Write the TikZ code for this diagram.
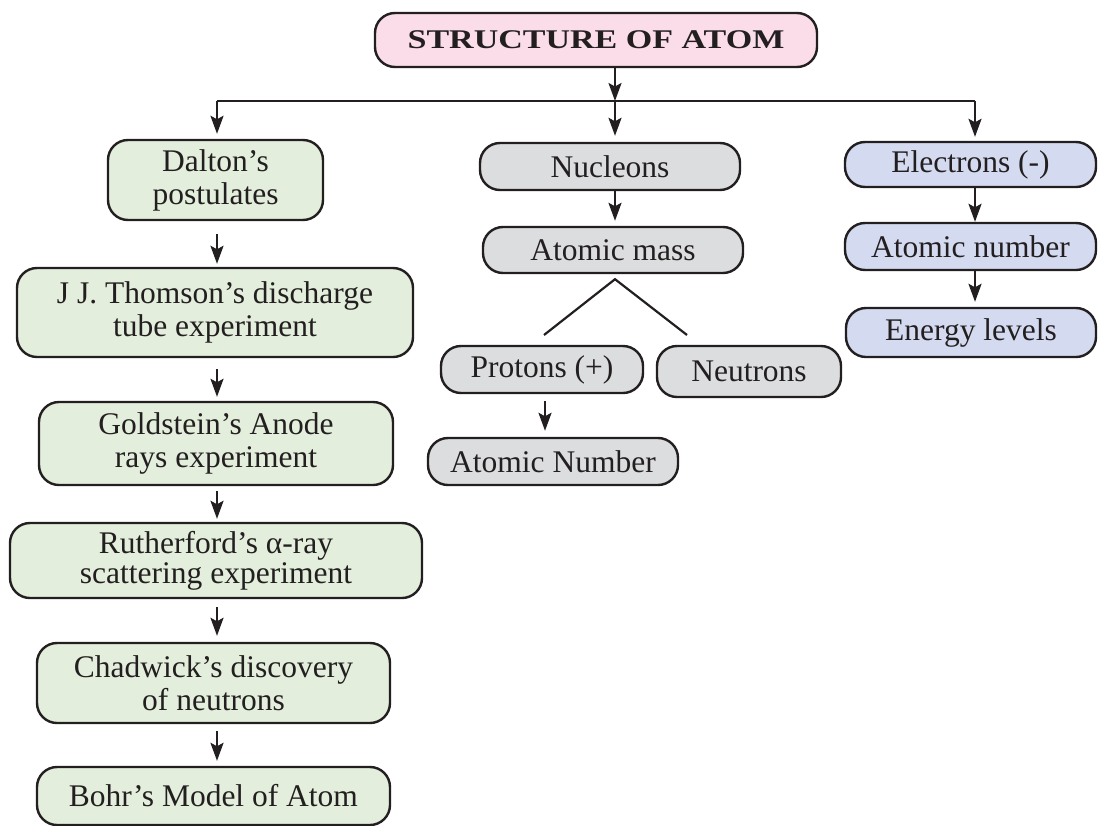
\documentclass[tikz,border=0pt]{standalone}
\usepackage{fontspec}
\setmainfont{Liberation Serif}
\usetikzlibrary{arrows.meta,calc}
\definecolor{ink}{HTML}{231F20}
\definecolor{pinkf}{HTML}{FBDDEA}
\definecolor{greenf}{HTML}{E3EFDC}
\definecolor{grayf}{HTML}{DCDDDF}
\definecolor{bluef}{HTML}{D4DAF0}
\tikzset{
  box/.style={draw=ink, line width=2.4pt, rounded corners=20pt, inner sep=0pt,
    align=center, text=ink, font=\fontsize{31.5}{33}\selectfont},
  gbox/.style={box, fill=greenf},
  nbox/.style={box, fill=grayf},
  bbox/.style={box, fill=bluef},
  conn/.style={draw=ink, line width=2.2pt},
  arr/.style={conn, -{Stealth[length=18pt,width=13pt,inset=3.5pt]}},
}
\begin{document}
\begin{tikzpicture}[x=1pt,y=-1pt]
\useasboundingbox (0,0) rectangle (1099,825);
\begin{scope}
\clip (0,0) rectangle (1099,825);
% title
\node[box, fill=pinkf, minimum width=442pt, minimum height=54pt, font=\fontsize{27}{28}\selectfont\bfseries] (title) at (596,40)
  {\scalebox{1.26}[1]{STRUCTURE OF ATOM}};
% left column
\node[gbox, minimum width=215pt, minimum height=80pt] (dal) at (215.5,180) {Dalton’s\\postulates};
\node[gbox, minimum width=396pt, minimum height=89pt] (tho) at (215,312.5) {J J. Thomson’s discharge\\tube experiment};
\node[gbox, minimum width=354pt, minimum height=83pt] (gol) at (216,443.5) {Goldstein’s Anode\\rays experiment};
\node[gbox, minimum width=412pt, minimum height=75pt, font=\fontsize{31.5}{30}\selectfont] (rut) at (216,560.5) {Rutherford’s α-ray\\scattering experiment};
\node[gbox, minimum width=353pt, minimum height=80pt] (cha) at (213.5,683) {Chadwick’s discovery\\of neutrons};
\node[gbox, minimum width=353pt, minimum height=58pt] (boh) at (213.5,796) {Bohr’s Model of Atom};
% middle column
\node[nbox, minimum width=260pt, minimum height=47pt] (nuc) at (610,166.5) {Nucleons};
\node[nbox, minimum width=260pt, minimum height=46pt] (mas) at (613,250) {Atomic mass};
\node[nbox, minimum width=202pt, minimum height=47pt] (pro) at (542,369.5) {Protons (+)};
\node[nbox, minimum width=184pt, minimum height=51pt] (neu) at (749,371.5) {Neutrons};
\node[nbox, minimum width=250pt, minimum height=47pt] (anu) at (553,461.5) {Atomic Number};
% right column
\node[bbox, minimum width=251pt, minimum height=45pt] (ele) at (970.5,164.5) {Electrons (-)};
\node[bbox, minimum width=251pt, minimum height=47pt] (anr) at (970.5,246.5) {Atomic number};
\node[bbox, minimum width=250pt, minimum height=49pt] (ene) at (971,332.5) {Energy levels};
% distribution bus
\coordinate (hub) at (615,101);
\coordinate (hl) at (217,101);
\coordinate (hr) at (975,101);
\draw[arr] (title.south -| hub) -- (hub);
\draw[conn] (hl) -- (hr);
\draw[arr, shorten >=5pt] (hl) -- (hl |- dal.north);
\draw[arr, shorten >=6pt] (hub) -- (hub |- nuc.north);
\draw[arr, shorten >=4pt] (hr) -- (hr |- ele.north);
% left chain
\draw[arr, shorten <=13pt, shorten >=3pt] (hl |- dal.south) -- (hl |- tho.north);
\draw[arr, shorten <=11pt, shorten >=4pt] (hl |- tho.south) -- (hl |- gol.north);
\draw[arr, shorten <=5pt, shorten >=3pt] (hl |- gol.south) -- (hl |- rut.north);
\draw[arr, shorten <=8pt, shorten >=6pt] (hl |- rut.south) -- (hl |- cha.north);
\draw[arr, shorten <=7pt, shorten >=5pt] (hl |- cha.south) -- (hl |- boh.north);
% middle chain
\draw[arr, shorten >=5pt] (hub |- nuc.south) -- (hub |- mas.north);
\coordinate (apex) at ($(hub |- mas.south)+(0,5)$);
\coordinate (pl) at (544,335);
\coordinate (pr) at (687,335);
\draw[conn] (pl) -- (apex) -- (pr);
\draw[arr, shorten <=7pt, shorten >=6pt] ([xshift=3pt]pro.south) -- ([xshift=3pt]pro.south |- anu.north);
% right chain
\draw[arr] (hr |- ele.south) -- (hr |- anr.north);
\draw[arr, shorten >=5pt] (hr |- anr.south) -- (hr |- ene.north);
\end{scope}
\end{tikzpicture}
\end{document}
